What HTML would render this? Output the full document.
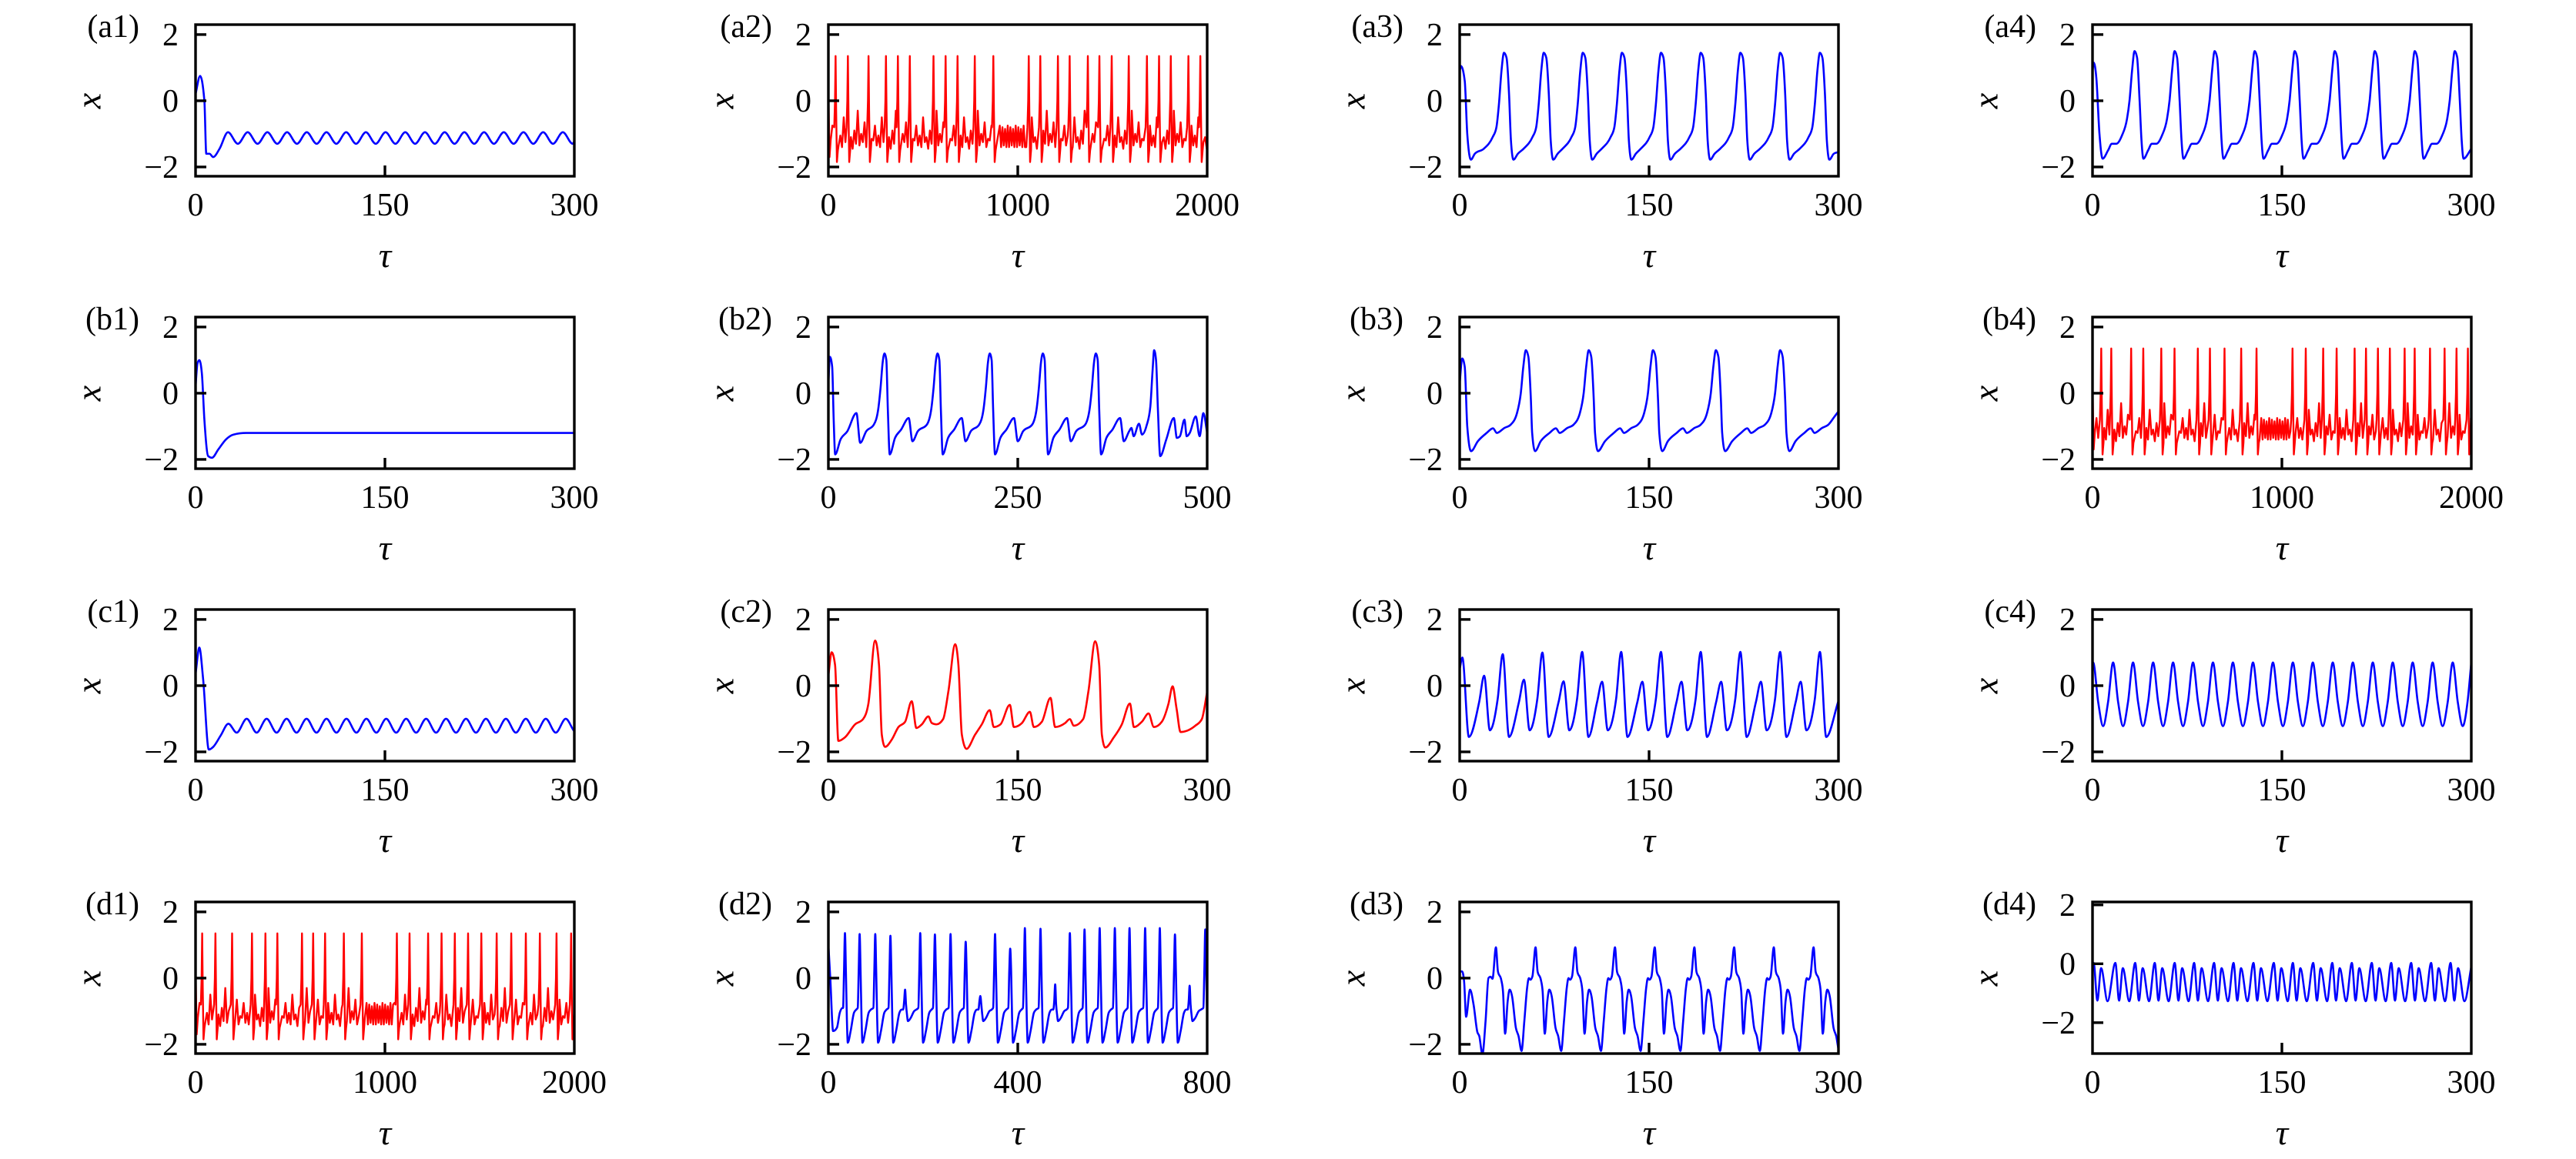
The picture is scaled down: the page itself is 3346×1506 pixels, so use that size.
<!DOCTYPE html>
<html><head><meta charset="utf-8"><style>
html,body{margin:0;padding:0;background:#fff;}
svg{display:block;font-family:"Liberation Serif",serif;}
</style></head><body>
<svg id="fig" width="3346" height="1506" viewBox="0 0 3346 1506" xmlns="http://www.w3.org/2000/svg"></svg>
<script>
// ---------- data ----------
const panelNames=["a1","a2","a3","a4","b1","b2","b3","b4","c1","c2","c3","c4","d1","d2","d3","d4"];
const panelTmax=[300,2000,300,300,300,500,300,2000,300,300,300,300,2000,800,300,300];
const xTickLabels=[["0","150","300"],["0","1000","2000"],["0","150","300"],["0","150","300"],["0","150","300"],["0","250","500"],["0","150","300"],["0","1000","2000"],["0","150","300"],["0","150","300"],["0","150","300"],["0","150","300"],["0","1000","2000"],["0","400","800"],["0","150","300"],["0","150","300"]];
const yTickValues=[2,0,-2];
const yTickLabels=["2","0","\u22122"];
const panelColor=["b","r","b","b","b","b","b","r","b","r","b","b","r","b","b","b"];
const panelDense=["a2","b4","d1"];

// a1
const a1PreT=[0,3.6,7,8.5,11,14,19]; const a1PreX=[0.2,0.75,0,-1.6,-1.6,-1.7,-1.45];
const a1Peaks=[25.7,41.3,56.9,72.5,88.1,103.7,119.3,134.9,150.5,166.1,181.7,197.3,212.9,228.5,244.1,259.7,275.3,290.9];
const a1Dt=[0,7.8]; const a1Dx=[-0.95,-1.3];
const a1PostT=[300]; const a1PostX=[-1.22];
// a3
const a3PreT=[0,1,4,6,8.9,12]; const a3PreX=[0.9,1.05,0.6,-1.0,-1.78,-1.6];
const a3Peaks=[35.1,66.6,97.5,128.5,159.4,190.9,222.3,253.8,285.3];
const a3Dt=[-16,-9,-6,-4,-2,0,2,4,5.5,7.5,11]; const a3Dx=[-1.45,-1.1,-0.8,-0.1,0.9,1.45,1.3,0.2,-1.2,-1.78,-1.6];
const a3PostT=[300]; const a3PostX=[-1.55];
// a4
const a4PreT=[0,1,3,5.5,8]; const a4PreX=[0.9,1.15,0.7,-1.0,-1.75];
const a4Peaks=[33.3,65,96.7,128.4,160.1,191.8,223.5,255.2,286.9];
const a4Dt=[-21,-18,-14.5,-10,-6,-4,-2,0,2,4,5.5,7]; const a4Dx=[-1.5,-1.3,-1.3,-1.05,-0.55,0.0,0.9,1.5,1.3,0.0,-1.2,-1.75];
const a4PostT=[300]; const a4PostX=[-1.45];
// b1
const b1PreT=[0,1.5,3,5,7,10,13,18,24,30,40,60,300]; const b1PreX=[0.2,0.9,1.0,0.6,-0.8,-1.9,-1.95,-1.7,-1.4,-1.25,-1.2,-1.2,-1.2];
const b1Peaks=[]; const b1Dt=[]; const b1Dx=[]; const b1PostT=[]; const b1PostX=[];
// b2
const b2PreT=[0,2,5,7,9,16,25,37,42,50]; const b2PreX=[0.3,1.1,0.8,-0.8,-1.85,-1.4,-1.15,-0.6,-1.5,-1.15];
const b2Peaks=[74,144,213,283,353];
const b2Dt=[-14,-8,-5,-2.5,0,2.5,4.5,7,14,22,32,37,44]; const b2Dx=[-0.95,-0.45,0.2,0.9,1.2,1.0,-0.5,-1.85,-1.35,-1.1,-0.75,-1.45,-1.15];
const b2PostT=[400,403,410,414,420,425,428,430,432.5,435,438,446,456,460,464,470,473,477,485,490,495,500];
const b2PostX=[-1.05,-1.3,-0.92,-1.25,-0.98,-0.4,0.7,1.3,1.0,-0.5,-1.9,-1.4,-0.75,-1.35,-1.3,-0.8,-1.3,-1.2,-0.7,-1.3,-0.6,-1.2];
// b3
const b3PreT=[0,2,4,6,9]; const b3PreX=[0.3,1.05,0.8,-1.0,-1.75];
const b3Peaks=[52.4,102.2,153.1,202.9,253.8];
const b3Dt=[-38,-31,-26,-23,-17,-12,-7,-4,-2,0,2,4,5,7.3]; const b3Dx=[-1.45,-1.2,-1.06,-1.2,-1.05,-0.95,-0.6,0.0,0.8,1.3,1.1,-0.2,-1.2,-1.75];
const b3PostT=[266,273,278,281,287,292,297,300]; const b3PostX=[-1.45,-1.2,-1.06,-1.2,-1.05,-0.95,-0.7,-0.55];
// c1
const c1PreT=[0,3,6,10.5,14,20,26,32.6]; const c1PreX=[0.35,1.15,0.2,-1.93,-1.85,-1.5,-1.15,-1.42];
const c1Peaks=[40.5,56.3,72.1,87.9,103.7,119.5,135.3,151,166.8,182.6,198.4,214.2,230,245.8,261.6,277.4,293.2];
const c1Dt=[0,7.9]; const c1Dx=[-1.0,-1.42];
const c1PostT=[300]; const c1PostX=[-1.38];
// c2
const c2PreT=[0,2.6,5.3,7.9,13.2,21.1,27.5,31.7,37,40.1,42.3,44.9,50.2,55.5,60.8,66,69.7,74,79.2,81.9,85.6,90.9,95.1,100.4,103,105.7,109.4,116.2,121.5,127.8,131,136.3,143.7,146.9,153.3,159.6,162.7,169.1,175.9,179.6,187.5,191.2,194.4,201.8,206,211.3,214.5,216.6,219.3,226.1,232.4,238.8,242,248.3,253.6,257.8,264.1,269.4,272.6,275.8,278.9,284.2,290.6,295.8,300];
const c2PreX=[0.31,1.01,0.62,-1.67,-1.56,-1.17,-1.01,-0.54,1.36,0.62,-1.48,-1.85,-1.63,-1.25,-1.09,-0.47,-1.28,-1.17,-0.93,-1.13,-1.17,-1.01,-0.16,1.25,0.62,-1.48,-1.91,-1.48,-1.17,-0.74,-1.25,-1.17,-0.58,-1.25,-1.13,-0.79,-1.25,-1.09,-0.37,-1.25,-1.13,-1.01,-1.21,-1.01,-0.16,1.34,0.62,-1.48,-1.87,-1.56,-1.17,-0.54,-1.25,-1.09,-0.84,-1.25,-1.09,-0.54,-0.02,-0.7,-1.4,-1.36,-1.21,-1.01,-0.19];
const c2Peaks=[]; const c2Dt=[]; const c2Dx=[]; const c2PostT=[]; const c2PostX=[];
// c3
const c3PreT=[0,2.1,7.3,15.4,19.4,23.9,30.1,34.1,39.1,46.9,50.9,55.4,61.5,65.5,70.5,78.3,82.3,86.8,93,97,102,108.8,112.8,117.3,123.9,127.9,132.9,140.7,144.7,149.2,155.4,159.4,164.4,171.7,175.7,180.2,186.9,190.9,195.9,203.1,207.1,211.6,218.3,222.3,227.3,234.6,238.6,243.1,249.8,253.8,258.8,266.1,270.1,274.6,281.3,285.3,290.3,300];
const c3PreX=[0.5,0.85,-1.55,-0.5,0.3,-1.35,-0.4,0.95,-1.55,-0.5,0.18,-1.35,-0.4,1.0,-1.55,-0.5,0.13,-1.35,-0.4,1.02,-1.55,-0.5,0.12,-1.35,-0.4,1.02,-1.55,-0.5,0.12,-1.35,-0.4,1.02,-1.55,-0.5,0.12,-1.35,-0.4,1.02,-1.55,-0.5,0.12,-1.35,-0.4,1.02,-1.55,-0.5,0.12,-1.35,-0.4,1.02,-1.55,-0.5,0.12,-1.35,-0.4,1.02,-1.55,-0.46];
const c3Peaks=[]; const c3Dt=[]; const c3Dx=[]; const c3PostT=[]; const c3PostX=[];
// c4
const c4PreT=[0]; const c4PreX=[0.55];
const c4Peaks=[0.5,16.3,32.1,48,63.8,79.6,95.4,111.2,127.1,142.9,158.7,174.5,190.3,206.2,222,237.8,253.6,269.4,285.3];
const c4Dt=[-4,0,4,7.9]; const c4Dx=[-0.5,0.7,-0.5,-1.22];
const c4PostT=[297,300]; const c4PostX=[-0.5,0.7];
// d2
const d2PreT=[0,4,10,18,24,30]; const d2PreX=[1.0,0.0,-1.6,-1.5,-1.05,-0.9];
const d2Peaks=[35,66,99,131,162,194,225,258,290,321,352,384,415,448,479,510,541,573,605,636,669,700,732,763,796];
const d2PeakX=[1.36,1.33,1.33,1.28,-0.35,1.36,1.32,1.33,1.1,-0.54,1.33,0.89,1.51,1.49,-0.19,1.36,1.47,1.51,1.51,1.51,1.51,1.51,1.32,-0.23,1.47];
const d2Dt=[-4,-2,0,2,4,6,12,19,24];
const d2BigDx=[-0.9,0.2,0,0.2,-1.2,-1.95,-1.6,-1.05,-0.95];
const d2SmallDx=[-0.95,-0.7,0,-0.8,-1.1,-1.3,-1.2,-1.0,-0.95];
// d3
const d3PreT=[0,1.9,3.5,5.1,8.2,11,14,15.5,18,20.5,22.8,24.5,26]; const d3PreX=[0.2,0.2,-0.1,-1.17,-0.35,-0.8,-1.63,-1.75,-2.3,-1.3,0.0,0.04,-0.02];
const d3Peaks=[28.7,60.1,91.6,123,154.5,185.9,217.4,248.8,280.3];
const d3Dt=[0,1.6,4.2,5.6,7.3,9.3,10.9,12.8,15.8,17.9,20.3,22.5,24.7,26.1,27.3,28.9];
const d3Dx=[0.93,0.2,-0.05,-0.4,-1.68,-0.7,-0.35,-0.55,-1.5,-1.75,-2.2,-1.3,-0.3,0.0,-0.05,0.05];
const d3PostT=[]; const d3PostX=[];
// d4
const d4PreT=[0]; const d4PreX=[0.0];
const d4Peaks=[0.9,18.1,33.8,49.3,65.1,80.5,96.3,111.7,127.5,143.6,158.7,174.8,189.9,205.4,221.2,236.6,252.4,268.2,283.6];
const d4Dt=[0,2.95,5.9,11]; const d4Dx=[0.03,-1.25,-0.15,-1.27];
const d4PostT=[300]; const d4PostX=[-0.1];
// red (chaotic) panels
const a2Spikes=[38,103,212,304,367,430,555,619,682,773,871,1058,1119,1212,1274,1370,1431,1496,1586,1682,1746,1808,1901,1964];
const b4Spikes=[46,99,204,268,363,433,556,620,697,785,866,1056,1126,1218,1289,1384,1444,1507,1570,1648,1701,1782,1859,1922,1982];
const d1Spikes=[35,105,193,298,369,432,562,621,684,783,878,1063,1130,1228,1299,1369,1439,1509,1590,1667,1744,1818,1906,1983];
const a2Quiet=[900,1040]; const b4Quiet=[890,1040]; const d1Quiet=[900,1045];
const spikeDt=[-7,-3,0,3,7,12]; const spikeDx=[-0.8,0.0,1.35,-0.3,-1.85,-1.5];
const redNoise=[-1.2,-0.75,-1.35,-1.05,-1.4,-0.5,-1.25,-1.1,-1.45,-0.9,-1.3,-0.3,-1.35,-1.0,-1.25,-0.65,-1.4,-1.15];
const quietNoise=[-0.75,-1.4,-0.8,-1.35,-0.85,-1.4];

// ---------- layout ----------
const colL=[254,1076,1896,2718], rowT=[32,412,792,1172], PW=492, PH=197;
const NS="http://www.w3.org/2000/svg";
const svg=document.getElementById("fig");
function mk(tag,attrs,parent){const e=document.createElementNS(NS,tag);for(const k in attrs)e.setAttribute(k,attrs[k]);(parent||svg).appendChild(e);return e;}

function buildSeries(pre,preX,peaks,dt,dx,postT,postX,peakX,smallDx){
  const pts=[];
  pre.forEach((t,i)=>pts.push([t,preX[i]]));
  peaks.forEach((p,k)=>{
    let tpl=dx;
    if(peakX && smallDx && peakX[k]<0) tpl=smallDx;
    dt.forEach((d,i)=>{let v=tpl[i]; if(peakX && d===0) v=peakX[k]; pts.push([p+d,v]);});
  });
  postT.forEach((t,i)=>pts.push([t,postX[i]]));
  pts.sort((a,b)=>a[0]-b[0]);
  return pts;
}
function buildRed(spikes,quiet,tmax){
  const pts=[]; let cur=0, ni=0, qi=0;
  function fill(a,b){
    for(let t=a;t<b;){
      const q=t>=quiet[0]&&t<=quiet[1];
      pts.push([t,q?quietNoise[(qi++)%quietNoise.length]:redNoise[(ni++)%redNoise.length]]);
      t+=q?7:9;
    }
  }
  pts.push([0,0.3]);
  pts.push([6,-1.7]);
  spikes.forEach((s,k)=>{
    fill(Math.max(cur+4,12),s-9);
    spikeDt.forEach((d,i)=>pts.push([s+d,spikeDx[i]]));
    cur=s+12;
  });
  fill(cur+4,tmax);
  pts.push([tmax,-1.1]);
  return pts;
}
function monoPath(P){
  const n=P.length; if(n<2) return "";
  const s=[],h=[];
  for(let i=0;i<n-1;i++){h[i]=P[i+1][0]-P[i][0]; s[i]=h[i]===0?0:(P[i+1][1]-P[i][1])/h[i];}
  const m=[];
  m[0]=s[0]; m[n-1]=s[n-2];
  for(let i=1;i<n-1;i++){
    if(s[i-1]*s[i]<=0){m[i]=0;continue;}
    const p=(s[i-1]*h[i]+s[i]*h[i-1])/(h[i-1]+h[i]);
    m[i]=Math.sign(s[i])*Math.min(Math.abs(s[i-1]),Math.abs(s[i]),0.5*Math.abs(p))*2;
  }
  let d="M"+P[0][0].toFixed(2)+","+P[0][1].toFixed(2);
  for(let i=0;i<n-1;i++){
    const hh=h[i]/3;
    d+="C"+(P[i][0]+hh).toFixed(2)+","+(P[i][1]+m[i]*hh).toFixed(2)+" "+(P[i+1][0]-hh).toFixed(2)+","+(P[i+1][1]-m[i+1]*hh).toFixed(2)+" "+P[i+1][0].toFixed(2)+","+P[i+1][1].toFixed(2);
  }
  return d;
}

const seriesData={
  a1:()=>buildSeries(a1PreT,a1PreX,a1Peaks,a1Dt,a1Dx,a1PostT,a1PostX),
  a2:()=>buildRed(a2Spikes,a2Quiet,2000),
  a3:()=>buildSeries(a3PreT,a3PreX,a3Peaks,a3Dt,a3Dx,a3PostT,a3PostX),
  a4:()=>buildSeries(a4PreT,a4PreX,a4Peaks,a4Dt,a4Dx,a4PostT,a4PostX),
  b1:()=>buildSeries(b1PreT,b1PreX,b1Peaks,b1Dt,b1Dx,b1PostT,b1PostX),
  b2:()=>buildSeries(b2PreT,b2PreX,b2Peaks,b2Dt,b2Dx,b2PostT,b2PostX),
  b3:()=>buildSeries(b3PreT,b3PreX,b3Peaks,b3Dt,b3Dx,b3PostT,b3PostX),
  b4:()=>buildRed(b4Spikes,b4Quiet,2000),
  c1:()=>buildSeries(c1PreT,c1PreX,c1Peaks,c1Dt,c1Dx,c1PostT,c1PostX),
  c2:()=>buildSeries(c2PreT,c2PreX,c2Peaks,c2Dt,c2Dx,c2PostT,c2PostX),
  c3:()=>buildSeries(c3PreT,c3PreX,c3Peaks,c3Dt,c3Dx,c3PostT,c3PostX),
  c4:()=>buildSeries(c4PreT,c4PreX,c4Peaks,c4Dt,c4Dx,c4PostT,c4PostX),
  d1:()=>buildRed(d1Spikes,d1Quiet,2000),
  d2:()=>buildSeries(d2PreT,d2PreX,d2Peaks,d2Dt,d2BigDx,[],[],d2PeakX,d2SmallDx),
  d3:()=>buildSeries(d3PreT,d3PreX,d3Peaks,d3Dt,d3Dx,d3PostT,d3PostX),
  d4:()=>buildSeries(d4PreT,d4PreX,d4Peaks,d4Dt,d4Dx,d4PostT,d4PostX)
};

const defs=mk("defs",{});
panelNames.forEach((name,idx)=>{
  const r=Math.floor(idx/4), c=idx%4;
  const L=colL[c], T=rowT[r];
  const tmax=panelTmax[idx];
  const ymin=name==="d4"?-3.05:-2.28, ymax=name==="d4"?2.1:2.3;
  const sx=t=>L+t/tmax*PW;
  const sy=v=>T+(ymax-v)/(ymax-ymin)*PH;
  const g=mk("g",{});
  
  
  const cp=mk("clipPath",{id:"clip-"+name},defs);
  mk("rect",{x:L,y:T,width:PW,height:PH},cp);
  // series
  const raw=seriesData[name]();
  const P=raw.map(p=>[sx(p[0]),sy(p[1])]);
  const red=panelColor[idx]==="r";
  const dense=panelDense.indexOf(name)>=0;
  let d;
  if(dense){d="M"+P.map(p=>p[0].toFixed(2)+","+p[1].toFixed(2)).join("L");}
  else d=monoPath(P);
  const line=mk("path",{d:d,fill:"none",stroke:red?"#ff0000":"#0000ff","stroke-width":dense?2.4:2.6,"stroke-linejoin":"round","clip-path":"url(#clip-"+name+")"},g);
  
  
  // frame
  const fr=mk("rect",{x:L,y:T,width:PW,height:PH,fill:"none",stroke:"#000","stroke-width":3.4},g);
  
  
  // y ticks
  yTickValues.forEach((v,i)=>{
    const y=sy(v);
    if(y>T+3&&y<T+PH-3){
      const tk=mk("line",{x1:L,x2:L+14,y1:y,y2:y,stroke:"#000","stroke-width":3.4},g);
      
      
    }
    const tx=mk("text",{x:L-22,y:y+14,"text-anchor":"end","font-size":42},g);
    tx.textContent=yTickLabels[i];
    
    
  });
  // x ticks
  const xl=xTickLabels[idx];
  [0,0.5,1].forEach((f,i)=>{
    const x=L+f*PW;
    if(i===1){
      const tk=mk("line",{x1:x,x2:x,y1:T+PH,y2:T+PH-14,stroke:"#000","stroke-width":3.4},g);
      
      
    }
    const tx=mk("text",{x:x,y:T+248,"text-anchor":"middle","font-size":42},g);
    tx.textContent=xl[i];
    
    
  });
  // axis titles
  const xt=mk("text",{x:L+PW/2,y:T+315,"text-anchor":"middle","font-size":46,"font-style":"italic"},g);
  xt.textContent="\u03c4";
  
  
  const yt=mk("text",{x:L-139,y:T+99,"text-anchor":"middle","dominant-baseline":"central","font-size":46,"font-style":"italic",transform:"rotate(-90 "+(L-139)+" "+(T+99)+")"},g);
  yt.textContent="x";
  
  
  const pl=mk("text",{x:L-73,y:T+16,"text-anchor":"end","font-size":42},g);
  pl.textContent="("+name+")";
  
  
});
</script>
</body></html>
